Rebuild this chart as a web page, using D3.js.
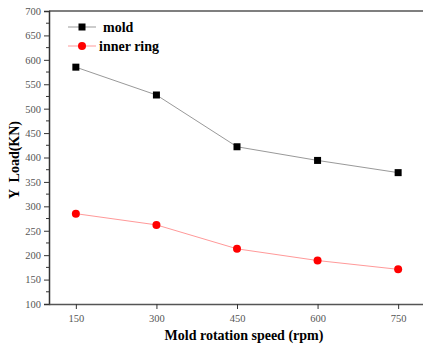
<!DOCTYPE html>
<html>
<head>
<meta charset="utf-8">
<script src="https://cdn.jsdelivr.net/npm/d3@7"></script>
<style>
  body { margin: 0; background: #fff; }
  svg { display: block; }
  svg text { font-family: "Liberation Serif", "Times New Roman", "DejaVu Serif", serif; }
  .tick text { font-size: 10.5px; fill: #555; }
  .bold { font-weight: bold; fill: #000; }
</style>
</head>
<body>
<div id="chart"></div>
<script>
const speeds = [150, 300, 450, 600, 750];
const moldLoad = [585, 528, 422, 394, 369];
const innerRingLoad = [285, 262, 213, 189, 171];
const yTicks = [100, 150, 200, 250, 300, 350, 400, 450, 500, 550, 600, 650, 700];

const width = 423, height = 346;
const svg = d3.select('#chart').append('svg')
  .attr('width', width)
  .attr('height', height);

const x = d3.scaleLinear().domain([100, 800]).range([49, 425]);
const y = d3.scaleLinear().domain([100, 700]).range([304, 11]);

// top frame line
svg.append('line')
  .attr('x1', x(100)).attr('x2', width)
  .attr('y1', y(700)).attr('y2', y(700))
  .attr('stroke', '#555').attr('stroke-width', 1.5);

// minor y ticks
svg.append('g')
  .attr('transform', `translate(${x(100)},0)`)
  .selectAll('line')
  .data(d3.range(125, 700, 50))
  .enter().append('line')
  .attr('x1', -3).attr('x2', 0)
  .attr('y1', d => y(d)).attr('y2', d => y(d))
  .attr('stroke', '#333');

const yAxis = svg.append('g')
  .attr('transform', `translate(${x(100)},0)`)
  .call(d3.axisLeft(y).tickValues(yTicks).tickSize(5).tickPadding(3))
  .attr('font-family', null);
yAxis.select('.domain').attr('stroke', '#333').attr('stroke-width', 1.5);
yAxis.selectAll('.tick line').attr('stroke', '#333');

const xAxis = svg.append('g')
  .attr('transform', `translate(0,${y(100)})`)
  .call(d3.axisBottom(x).tickValues(speeds).tickSize(5).tickPadding(6).tickSizeOuter(0))
  .attr('font-family', null);
xAxis.select('.domain').attr('stroke', '#555').attr('stroke-width', 1.5);
xAxis.selectAll('.tick line').attr('stroke', '#333');

const line = d3.line().x((d, i) => x(speeds[i])).y(d => y(d));

svg.append('path')
  .datum(moldLoad)
  .attr('d', line)
  .attr('fill', 'none')
  .attr('stroke', '#999')
  .attr('stroke-width', 1);

svg.append('path')
  .datum(innerRingLoad)
  .attr('d', line)
  .attr('fill', 'none')
  .attr('stroke', '#f99')
  .attr('stroke-width', 1);

svg.selectAll('.sq')
  .data(moldLoad)
  .enter().append('rect')
  .attr('class', 'sq')
  .attr('x', (d, i) => x(speeds[i]) - 3.5)
  .attr('y', d => y(d) - 3.5)
  .attr('width', 7).attr('height', 7)
  .attr('fill', '#000');

svg.selectAll('.dot')
  .data(innerRingLoad)
  .enter().append('circle')
  .attr('class', 'dot')
  .attr('cx', (d, i) => x(speeds[i]))
  .attr('cy', d => y(d))
  .attr('r', 4)
  .attr('fill', '#f00');

// legend
const legend = svg.append('g').attr('transform', 'translate(68,27)');
legend.append('line').attr('x1', 0).attr('x2', 28).attr('y1', 0).attr('y2', 0)
  .attr('stroke', '#999');
legend.append('rect').attr('x', 10.5).attr('y', -3.5).attr('width', 7).attr('height', 7).attr('fill', '#000');
legend.append('text').attr('class', 'bold').text('mold')
  .attr('x', 35).attr('y', 4.5)
  .style('font-size', '14px');
legend.append('line').attr('x1', 0).attr('x2', 28).attr('y1', 19).attr('y2', 19)
  .attr('stroke', '#f99');
legend.append('circle').attr('cx', 14).attr('cy', 19).attr('r', 4).attr('fill', '#f00');
legend.append('text').attr('class', 'bold').text('inner ring')
  .attr('x', 31).attr('y', 23.5)
  .style('font-size', '14px');

svg.append('text').attr('class', 'bold')
  .text('Mold rotation speed (rpm)')
  .attr('x', 244).attr('y', 340)
  .attr('text-anchor', 'middle')
  .style('font-size', '14px');

svg.append('text').attr('class', 'bold')
  .text('Y  Load(KN)')
  .attr('transform', 'translate(19,160) rotate(-90)')
  .attr('text-anchor', 'middle')
  .style('font-size', '14px')
  .style('white-space', 'pre');
</script>
</body>
</html>
